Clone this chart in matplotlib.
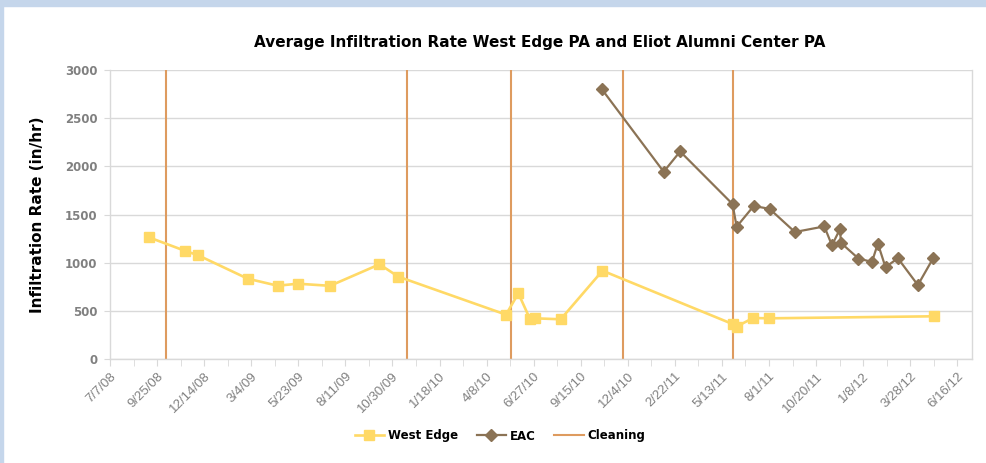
import datetime as dt
import numpy as np
import matplotlib
matplotlib.use("Agg")
import matplotlib.pyplot as plt
from matplotlib.patches import Rectangle

# West Edge pavement readings (date, in/hr)
west_dates = ["9/11/08", "11/11/08", "12/4/08", "2/26/09", "4/18/09", "5/22/09",
              "7/16/09", "10/8/09", "11/9/09", "5/11/10", "6/1/10", "6/21/10",
              "6/29/10", "8/12/10", "10/22/10", "5/31/11", "6/7/11", "7/5/11",
              "8/1/11", "5/7/12"]
west_rates = [1265, 1126, 1078, 836, 763, 784, 762, 985, 857, 463, 684, 415,
              425, 415, 919, 366, 340, 428, 425, 446]

# Eliot Alumni Center readings
eac_dates = ["10/21/10", "2/3/11", "3/3/11", "5/31/11", "6/7/11", "7/6/11",
             "8/2/11", "9/14/11", "11/3/11", "11/16/11", "11/30/11", "12/1/11",
             "12/31/11", "1/23/12", "2/2/12", "2/15/12", "3/7/12", "4/10/12",
             "5/6/12"]
eac_rates = [2800, 1945, 2155, 1610, 1375, 1590, 1560, 1320, 1378, 1182, 1355,
             1209, 1045, 1010, 1200, 955, 1048, 770, 1048]

cleaning_dates = ["10/10/08", "11/23/09", "5/19/10", "11/26/10", "6/1/11"]


def to_date(s):
    return dt.datetime.strptime(s, "%m/%d/%y")


west_x = [to_date(s) for s in west_dates]
eac_x = [to_date(s) for s in eac_dates]
clean_x = [to_date(s) for s in cleaning_dates]

yellow = "#FFD966"
brown = "#8B7355"
orange = "#DE9B5F"
grid_c = "#D9D9D9"
tick_c = "#808080"

plt.rcParams["font.family"] = ["DejaVu Sans"]

fig = plt.figure(figsize=(9.87, 4.63), dpi=100)
# light blue frame on top and left
fig.patches.append(Rectangle((0, 1 - 6 / 463), 1, 6 / 463, transform=fig.transFigure,
                             color="#C5D6EB", zorder=0))
fig.patches.append(Rectangle((0, 0), 3 / 987, 1, transform=fig.transFigure,
                             color="#C5D6EB", zorder=0))

ax = fig.add_axes([110 / 987, (463 - 359.3) / 463, 862 / 987, 289.3 / 463])

ax.plot(west_x, west_rates, color=yellow, lw=1.9, marker="s", ms=7.5,
        mec=yellow, mfc=yellow, label="West Edge", zorder=3)
ax.plot(eac_x, eac_rates, color=brown, lw=1.6, marker="D", ms=6,
        mec=brown, mfc=brown, label="EAC", zorder=4)
for i, d in enumerate(clean_x):
    ax.axvline(d, color=orange, lw=1.5, zorder=2,
               label="Cleaning" if i == 0 else None)

start = dt.datetime(2008, 7, 7)
ax.set_xlim(start, dt.datetime(2012, 7, 11))
ax.set_ylim(0, 3000)

major = [start + dt.timedelta(days=80 * k) for k in range(19)]
minor = [start + dt.timedelta(days=40 * k) for k in range(37)]
ax.set_xticks(major)
ax.set_xticks(minor, minor=True)
ax.set_xticklabels([f"{d.month}/{d.day}/{d.year % 100:02d}" for d in major],
                   rotation=45, ha="right", rotation_mode="anchor",
                   fontsize=9.5, color=tick_c, family="Liberation Sans")
ax.tick_params(axis="x", which="both", length=5, color=grid_c, pad=3)

ax.set_yticks(np.arange(0, 3001, 500))
ax.set_yticklabels([str(v) for v in range(0, 3001, 500)], fontsize=8.5,
                   color=tick_c, fontweight="bold")
ax.tick_params(axis="y", length=4, color=grid_c, pad=5)

ax.grid(axis="y", color=grid_c, lw=1, zorder=0)
ax.set_axisbelow(True)
for s in ax.spines.values():
    s.set_color(grid_c)
    s.set_linewidth(1)
ax.spines["top"].set_visible(False)

ax.set_ylabel("Infiltration Rate (in/hr)", fontsize=11, fontweight="bold",
              labelpad=14)
fig.text(540 / 987, 1 - 42 / 463,
         "Average Infiltration Rate West Edge PA and Eliot Alumni Center PA",
         ha="center", va="center", fontsize=11, fontweight="bold")

leg = fig.legend(loc="center", bbox_to_anchor=(500 / 987, 1 - 436 / 463), ncol=3,
                 frameon=False, prop={"weight": "bold", "size": 8.5},
                 handlelength=2.5, columnspacing=1.6, handletextpad=0.3)

fig.savefig("out.png", dpi=100)
